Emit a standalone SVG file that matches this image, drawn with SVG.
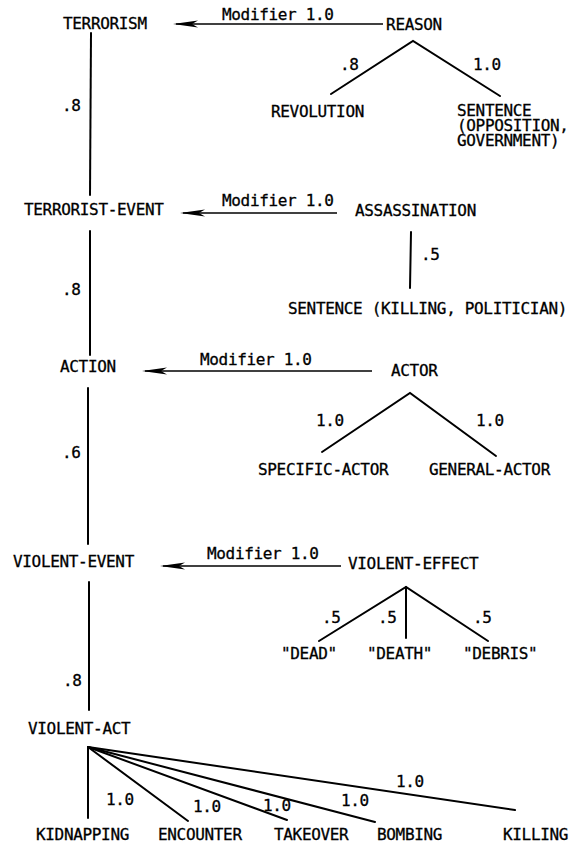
<svg xmlns="http://www.w3.org/2000/svg" width="571" height="847" viewBox="0 0 571 847">
<style>
text{font-family:"DejaVu Sans Mono","Liberation Mono",monospace;font-size:16px;letter-spacing:-0.33px;fill:#000;stroke:#000;stroke-width:0.3}
.e{stroke:#000;stroke-width:2;fill:none;stroke-linecap:round}
.a{stroke:#000;stroke-width:1.5;fill:none}
.h{fill:#000}
.m{text-anchor:middle}
</style>
<rect width="571" height="847" fill="#fff"/>
<g id="connectors">
<line class="a" x1="383" y1="24" x2="176" y2="24"/>
<path class="h" d="M173,24 L198,20.5 L192,24 L198,27.5 Z"/>
<line class="a" x1="337" y1="213" x2="183" y2="213"/>
<path class="h" d="M180,213 L205,209.5 L199,213 L205,216.5 Z"/>
<line class="a" x1="372" y1="371" x2="145" y2="371"/>
<path class="h" d="M142,371 L167,367.5 L161,371 L167,374.5 Z"/>
<line class="a" x1="341" y1="566" x2="163" y2="566"/>
<path class="h" d="M160,566 L185,562.5 L179,566 L185,569.5 Z"/>
<line class="e" x1="91" y1="33" x2="90" y2="195"/>
<line class="e" x1="90" y1="231" x2="90" y2="355"/>
<line class="e" x1="88" y1="388" x2="88" y2="544"/>
<line class="e" x1="89" y1="582" x2="89" y2="710"/>
<polyline class="e" points="331,94 413,41 500,96"/>
<line class="e" x1="411" y1="232" x2="410" y2="288"/>
<polyline class="e" points="322,452 410,393 496,456"/>
<polyline class="e" points="319,641 406,587 488,641"/>
<line class="e" x1="406" y1="587" x2="406" y2="638"/>
<line class="e" x1="88" y1="747" x2="88" y2="818"/>
<line class="e" x1="88" y1="747" x2="188" y2="821"/>
<line class="e" x1="88" y1="747" x2="287" y2="820"/>
<line class="e" x1="88" y1="747" x2="375" y2="822"/>
<line class="e" x1="88" y1="747" x2="515" y2="810"/>
</g>
<g id="edge-labels">
<text x="222" y="20">Modifier 1.0</text>
<text x="222" y="206">Modifier 1.0</text>
<text x="200" y="365">Modifier 1.0</text>
<text x="207" y="559">Modifier 1.0</text>
<text x="62" y="111">.8</text>
<text x="62" y="295">.8</text>
<text x="62" y="458">.6</text>
<text x="63" y="686">.8</text>
<text x="340" y="70">.8</text>
<text x="473" y="70">1.0</text>
<text x="421" y="260">.5</text>
<text x="316" y="426">1.0</text>
<text x="476" y="426">1.0</text>
<text x="322" y="623">.5</text>
<text x="378" y="623">.5</text>
<text x="473" y="623">.5</text>
<text x="106" y="805">1.0</text>
<text x="193" y="812">1.0</text>
<text x="263" y="811">1.0</text>
<text x="341" y="806">1.0</text>
<text x="396" y="787">1.0</text>
</g>
<g id="terrorism"><text x="63" y="29">TERRORISM</text></g>
<g id="reason"><text x="414" y="30" class="m">REASON</text></g>
<g id="revolution"><text x="271" y="117">REVOLUTION</text></g>
<g id="sentence-opposition"><text x="457" y="116">SENTENCE</text><text x="457" y="131">(OPPOSITION,</text><text x="457" y="146">GOVERNMENT)</text></g>
<g id="terrorist-event"><text x="24" y="215">TERRORIST-EVENT</text></g>
<g id="assassination"><text x="355" y="216">ASSASSINATION</text></g>
<g id="sentence-killing"><text x="288" y="314">SENTENCE (KILLING, POLITICIAN)</text></g>
<g id="action"><text x="60" y="372">ACTION</text></g>
<g id="actor"><text x="391" y="376">ACTOR</text></g>
<g id="specific-actor"><text x="258" y="475">SPECIFIC-ACTOR</text></g>
<g id="general-actor"><text x="429" y="475">GENERAL-ACTOR</text></g>
<g id="violent-event"><text x="13" y="567">VIOLENT-EVENT</text></g>
<g id="violent-effect"><text x="348" y="569">VIOLENT-EFFECT</text></g>
<g id="dead"><text x="281" y="659">"DEAD"</text></g>
<g id="death"><text x="367" y="659">"DEATH"</text></g>
<g id="debris"><text x="463" y="659">"DEBRIS"</text></g>
<g id="violent-act"><text x="28" y="734">VIOLENT-ACT</text></g>
<g id="kidnapping"><text x="36" y="840">KIDNAPPING</text></g>
<g id="encounter"><text x="158" y="840">ENCOUNTER</text></g>
<g id="takeover"><text x="274" y="840">TAKEOVER</text></g>
<g id="bombing"><text x="377" y="840">BOMBING</text></g>
<g id="killing"><text x="503" y="840">KILLING</text></g>
</svg>
